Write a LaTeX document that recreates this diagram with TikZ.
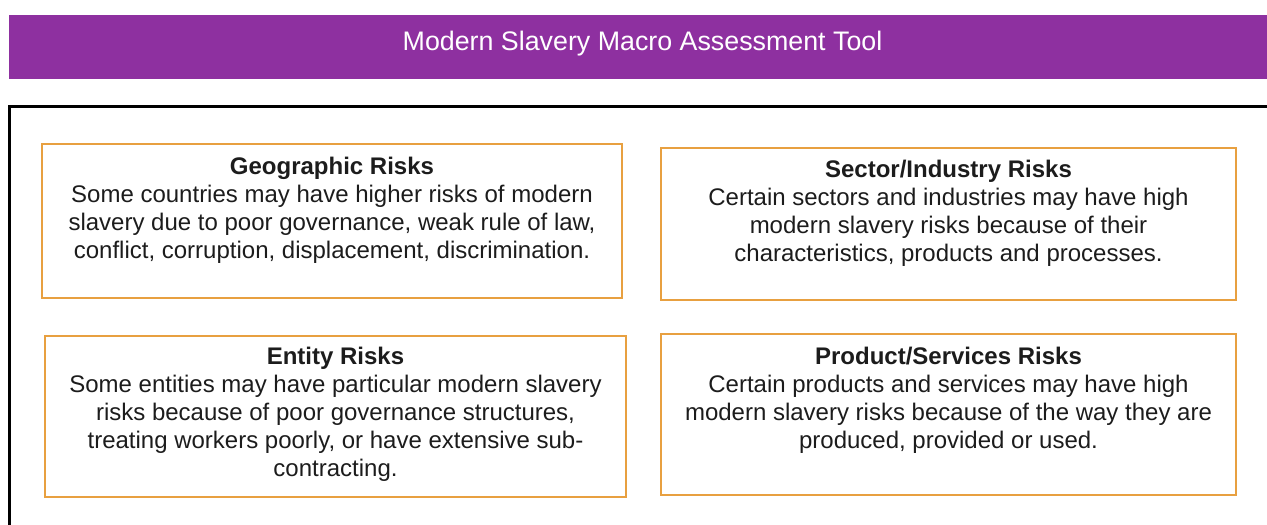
\documentclass[tikz,border=0pt]{standalone}
\usepackage{fontspec}
\setmainfont{Liberation Sans}
\usetikzlibrary{positioning}

\definecolor{bandpurple}{RGB}{142,48,160}
\definecolor{boxorange}{RGB}{232,160,64}
\definecolor{inkgray}{RGB}{28,28,28}

\begin{document}
\begin{tikzpicture}[x=1pt, y=-1pt,
    riskbox/.style={draw=boxorange, line width=2pt, inner sep=0pt},
    risktext/.style={align=center, inner sep=0pt, text=inkgray,
      font=\fontsize{24}{28}\selectfont}]
    \useasboundingbox (0,0) rectangle (1267,525);
    \clip (0,0) rectangle (1267,525);

    % Title band
    \fill[bandpurple] (9,15) rectangle (1290,79);
    \node[anchor=base, text=white, font=\fontsize{26.8}{30}\selectfont] (title)
      at (642.5,50) {Modern Slavery Macro Assessment Tool};

    % Outer frame
    \draw[line width=3pt] (9.5,106) rectangle (1300,560);

    % Risk boxes
    \node[riskbox, minimum width=580pt, minimum height=154pt] (geo) at (332,221) {};
    \node[riskbox, minimum width=575pt, minimum height=152pt] (sector) at (948.5,224) {};
    \node[riskbox, minimum width=581pt, minimum height=161pt] (entity) at (335.5,416.5) {};
    \node[riskbox, minimum width=575pt, minimum height=161pt] (product) at (948.5,414.5) {};

    % Box texts
    \node[risktext, below=14pt of geo.north] (geotext)
      {\textbf{Geographic Risks}\\
       Some countries may have higher risks of modern\\
       slavery due to poor governance, weak rule of law,\\
       conflict, corruption, displacement, discrimination.};
    \node[risktext, below=12.5pt of sector.north] (sectortext)
      {\textbf{Sector/Industry Risks}\\
       Certain sectors and industries may have high\\
       modern slavery risks because of their\\
       characteristics, products and processes.};
    \node[risktext, below=12pt of entity.north] (entitytext)
      {\textbf{Entity Risks}\\
       Some entities may have particular modern slavery\\
       risks because of poor governance structures,\\
       treating workers poorly, or have extensive sub-\\
       contracting.};
    \node[risktext, below=14pt of product.north] (producttext)
      {\textbf{Product/Services Risks}\\
       Certain products and services may have high\\
       modern slavery risks because of the way they are\\
       produced, provided or used.};
\end{tikzpicture}
\end{document}
